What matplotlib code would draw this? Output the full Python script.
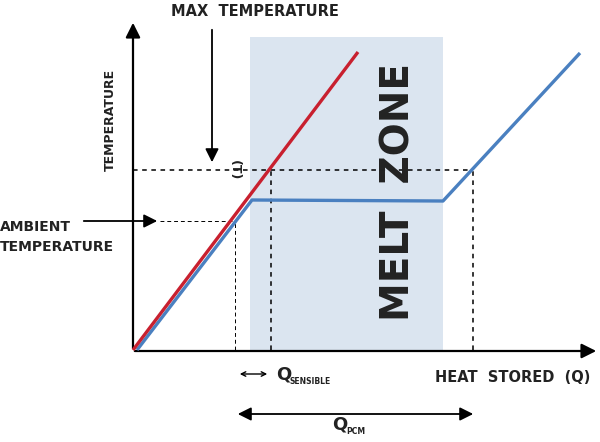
import matplotlib
matplotlib.use("Agg")
import matplotlib.pyplot as plt
from matplotlib.patches import Rectangle

# heat stored (Q) vs temperature (T), arbitrary units
red_q = [0, 225]
red_t = [0, 298]
blue_q = [4, 119, 310, 447]
blue_t = [0, 150, 149, 297]
melt_q = [117, 310]
melt_top = 313
t_max = 180
t_ambient = 129
q_ambient = 102
q_sensible = 138
q_end = 340

RED = "#c8202f"
BLUE = "#4a80c0"
ZONE = "#dbe5f0"
FONT = dict(family="DejaVu Sans", fontweight="bold", color="#222222")

fig = plt.figure(figsize=(6, 4.42), dpi=100)
ax = fig.add_axes([0, 0, 1, 1])
ax.set_xlim(-133, 467)
ax.set_ylim(-92, 350)
ax.axis("off")

ax.add_patch(Rectangle((melt_q[0], 0), melt_q[1] - melt_q[0], melt_top,
                       facecolor=ZONE, edgecolor="none", zorder=0))

# axes with arrow heads
ax.annotate("", xy=(0, 330), xytext=(0, -1),
            arrowprops=dict(arrowstyle="-|>", lw=1.6, color="black", mutation_scale=22))
ax.annotate("", xy=(466, -1), xytext=(-1, -1),
            arrowprops=dict(arrowstyle="-|>", lw=1.6, color="black", mutation_scale=22))

# guide lines
dash = (0, (3, 3))
ax.plot([0, q_end], [t_max, t_max], ls=dash, color="black", lw=1.1, zorder=1)
ax.plot([q_end, q_end], [0, t_max], ls=dash, color="black", lw=1.1, zorder=1)
ax.plot([q_sensible, q_sensible], [0, t_max], ls=dash, color="black", lw=1.1, zorder=1)
ax.plot([27, q_ambient], [t_ambient, t_ambient], ls=(0, (4, 3)), color="black", lw=0.7, zorder=1)
ax.plot([q_ambient, q_ambient], [0, t_ambient], ls=(0, (4, 3)), color="black", lw=0.7, zorder=1)

ax.plot(blue_q, blue_t, color=BLUE, lw=2.4, zorder=3, solid_capstyle="butt")
ax.plot(red_q, red_t, color=RED, lw=2.4, zorder=4, solid_capstyle="butt")

# pointer arrows
ax.annotate("", xy=(27, t_ambient), xytext=(-52, t_ambient),
            arrowprops=dict(arrowstyle="-|>", lw=1.3, color="black", mutation_scale=20))
ax.annotate("", xy=(79, t_max + 5), xytext=(79, 323),
            arrowprops=dict(arrowstyle="-|>", lw=1.3, color="black", mutation_scale=20))
ax.annotate("", xy=(q_sensible - 1, -24), xytext=(q_ambient + 2, -24),
            arrowprops=dict(arrowstyle="<->", lw=1.0, color="black", mutation_scale=8))
ax.annotate("", xy=(q_end + 3, -64), xytext=(q_ambient, -64),
            arrowprops=dict(arrowstyle="<|-|>", lw=1.3, color="black", mutation_scale=20))

# text
ax.text(122, 338, "MAX  TEMPERATURE", ha="center", va="center", fontsize=10.5, **FONT)
ax.text(-23, 230, "TEMPERATURE", ha="center", va="center", rotation=90, fontsize=9, **FONT)
ax.text(-133, t_ambient - 6, "AMBIENT", ha="left", va="center", fontsize=10, **FONT)
ax.text(-133, t_ambient - 26, "TEMPERATURE", ha="left", va="center", fontsize=10, **FONT)
ax.text(101, 180, "(T)", ha="center", va="center", rotation=270, fontsize=9, **FONT)
ax.text(265, 158, "MELT  ZONE", ha="center", va="center", rotation=90, fontsize=28, **FONT)
ax.text(380, -28, "HEAT  STORED  (Q)", ha="center", va="center", fontsize=10.5, **FONT)
ax.text(143, -24, "Q", ha="left", va="center", fontsize=13, **FONT)
ax.text(157, -31, "SENSIBLE", ha="left", va="center", fontsize=5.5, **FONT)
ax.text(199, -74, "Q", ha="left", va="center", fontsize=13, **FONT)
ax.text(213, -81, "PCM", ha="left", va="center", fontsize=5.5, **FONT)

fig.savefig("out.png", dpi=100)
